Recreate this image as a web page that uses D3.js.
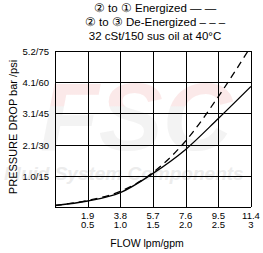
<!DOCTYPE html>
<html lang="en">
<head>
  <meta charset="UTF-8">
  <title>Pressure drop vs flow</title>
  <script src="https://d3js.org/d3.v7.min.js"></script>
  <style>
    body { margin: 0; background: #fff; }
    svg { display: block; font-family: "Liberation Sans", Arial, sans-serif; }
    .grid line { stroke: #000; stroke-width: 1px; shape-rendering: crispEdges; }
    .line { fill: none; stroke: #000; stroke-width: 1.3px; }
    .tick-label { font-size: 9.5px; fill: #000; }
  </style>
</head>
<body>
  <svg width="263" height="253"></svg>
  <script>
    // flow in lpm (x) and matching gpm labels
    var flowTicks = [0, 1.9, 3.8, 5.7, 7.6, 9.5, 11.4];
    var gpmLabels = ["", "0.5", "1.0", "1.5", "2.0", "2.5", "3"];
    // pressure drop in bar (y) and bar/psi labels
    var dropTicks = [0, 1.04, 2.08, 3.12, 4.16, 5.2];
    var dropLabels = ["", "1.0/15", "2.1/30", "3.1/45", "4.1/60", "5.2/75"];

    // 2 to 1 energized (solid)
    var energizedFlow = [0, 1.9, 3.8, 5.7, 7.6, 9.5, 11.4];
    var energizedDrop = [0.05, 0.2, 0.48, 1.12, 1.92, 2.95, 4.02];
    // 2 to 3 de-energized (dashed)
    var deEnergizedFlow = [0, 1.9, 3.8, 5.7, 7.6, 9.5, 11.4];
    var deEnergizedDrop = [0.05, 0.22, 0.52, 1.15, 2.2, 3.68, 5.36];

    var titleLines = [
      "\u2461 to \u2460 Energized \u2014 \u2014",
      "\u2461 to \u2462 De-Energized \u2013 \u2013 \u2013",
      "32 cSt/150 sus oil at 40\u00B0C"
    ];

    var svg = d3.select("svg"),
        margin = {top: 51, right: 12, bottom: 46, left: 55},
        width = +svg.attr("width") - margin.left - margin.right,
        height = +svg.attr("height") - margin.top - margin.bottom;

    // faint watermark
    var defs = svg.append("defs");
    var grad = defs.append("linearGradient").attr("id", "wm").attr("x1", 0).attr("y1", 0).attr("x2", 0).attr("y2", 1);
    grad.append("stop").attr("offset", "0%").attr("stop-color", "#fbe9e9");
    grad.append("stop").attr("offset", "40%").attr("stop-color", "#fbe9e9");
    grad.append("stop").attr("offset", "41%").attr("stop-color", "#f3f3f3");
    grad.append("stop").attr("offset", "100%").attr("stop-color", "#f3f3f3");
    svg.append("text")
        .attr("x", 40).attr("y", 150)
        .style("font-size", "96px").style("font-weight", "bold").style("font-style", "italic")
        .style("fill", "url(#wm)")
        .text("FSC");
    svg.append("text")
        .attr("x", 4).attr("y", 180)
        .style("font-size", "19px").style("font-weight", "bold").style("font-style", "italic")
        .style("fill", "#ececec")
        .text("Fluid System Components");

    defs.append("clipPath").attr("id", "plot-clip")
      .append("rect").attr("width", width).attr("height", height);

    var g = svg.append("g").attr("transform", "translate(" + margin.left + "," + margin.top + ")");

    var x = d3.scaleLinear().domain([0, 11.4]).range([0, width]),
        y = d3.scaleLinear().domain([0, 5.2]).range([height, 0]);

    // grid
    var grid = g.append("g").attr("class", "grid");
    grid.selectAll(".v").data(flowTicks).enter().append("line")
        .attr("x1", function(d) { return Math.round(x(d)) + 0.5; })
        .attr("x2", function(d) { return Math.round(x(d)) + 0.5; })
        .attr("y1", 0).attr("y2", height);
    grid.selectAll(".h").data(dropTicks).enter().append("line")
        .attr("x1", 0).attr("x2", width)
        .attr("y1", function(d) { return Math.round(y(d)) + 0.5; })
        .attr("y2", function(d) { return Math.round(y(d)) + 0.5; });

    // y tick labels
    g.selectAll(".ylab").data(dropTicks).enter().append("text")
        .attr("class", "tick-label")
        .attr("x", -6)
        .attr("y", function(d) { return y(d) + 4; })
        .attr("text-anchor", "end")
        .text(function(d, i) { return dropLabels[i]; });

    // x tick labels, two rows (lpm / gpm)
    g.selectAll(".xlab").data(flowTicks).enter().append("text")
        .attr("class", "tick-label")
        .attr("x", function(d) { return x(d); })
        .attr("y", height + 12)
        .attr("text-anchor", "middle")
        .text(function(d) { return d === 0 ? "" : d.toFixed(1); });
    g.selectAll(".xlab2").data(flowTicks).enter().append("text")
        .attr("class", "tick-label")
        .attr("x", function(d) { return x(d); })
        .attr("y", height + 20.5)
        .attr("text-anchor", "middle")
        .text(function(d, i) { return gpmLabels[i]; });

    // curves
    var line = d3.line()
        .curve(d3.curveMonotoneX)
        .x(function(d) { return x(d[0]); })
        .y(function(d) { return y(d[1]); });

    var curves = g.append("g").attr("clip-path", "url(#plot-clip)");
    curves.append("path")
        .datum(d3.zip(energizedFlow, energizedDrop))
        .attr("class", "line")
        .attr("d", line);
    curves.append("path")
        .datum(d3.zip(deEnergizedFlow, deEnergizedDrop))
        .attr("class", "line")
        .style("stroke-dasharray", "7,5")
        .attr("d", line);

    // axis titles
    svg.append("text")
        .attr("x", margin.left + width / 2 - 6)
        .attr("y", 247)
        .attr("text-anchor", "middle")
        .style("font-size", "10.5px")
        .text("FLOW lpm/gpm");
    svg.append("text")
        .attr("transform", "translate(17," + (margin.top + height / 2 - 2) + ") rotate(-90)")
        .attr("text-anchor", "middle")
        .style("font-size", "11px")
        .text("PRESSURE DROP bar /psi");

    // title
    svg.selectAll(".title").data(titleLines).enter().append("text")
        .attr("x", 155)
        .attr("y", function(d, i) { return 12 + i * 14; })
        .attr("text-anchor", "middle")
        .style("font-size", "11.5px")
        .text(function(d) { return d; });
  </script>
</body>
</html>
